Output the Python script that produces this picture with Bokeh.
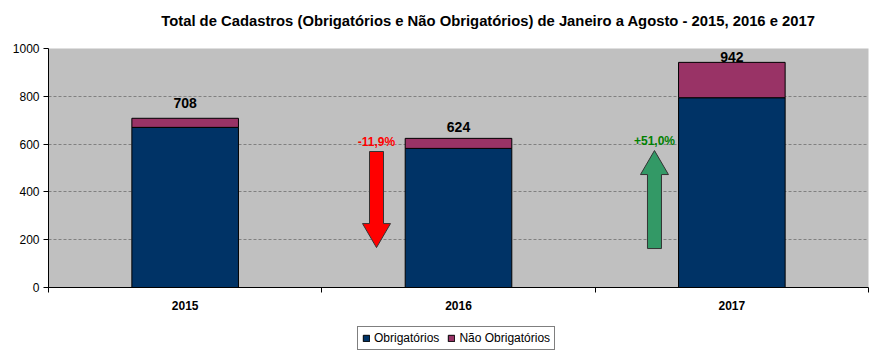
from bokeh.plotting import figure
from bokeh.layouts import column
from bokeh.models import (ColumnDataSource, FixedTicker, Legend, LegendItem, Range1d,
                          CustomJSTickFormatter)
from bokeh.core.properties import value
from bokeh.embed import file_html
from bokeh.resources import INLINE

# ---- data ----
title_text = "Total de Cadastros (Obrigatórios e Não Obrigatórios) de Janeiro a Agosto - 2015, 2016 e 2017"
years = ["2015", "2016", "2017"]
series_names = ["Obrigatórios", "Não Obrigatórios"]
series_colors = ["#003366", "#993366"]
obrigatorios = [670, 582, 794]
nao_obrigatorios = [38, 42, 148]
totals = [708, 624, 942]

change_labels = ["-11,9%", "+51,0%"]
change_x = [0.70, 1.717]           # position between categories
change_from = [569, 163]
change_to = [167, 573]
change_fill = ["#FF0000", "#339966"]
change_text = ["#FF0000", "#008000"]

FONT = "Liberation Sans"

# ---- title strip ----
pt = figure(frame_width=878, frame_height=40, output_backend="svg", toolbar_location=None,
            x_range=Range1d(0, 1), y_range=Range1d(0, 1), min_border=0, title=None)
pt.axis.visible = False
pt.grid.visible = False
pt.outline_line_color = None
pt.text(x=[0.501], y=[0.5], text=[title_text], text_align="center",
        text_baseline="middle", text_font=value(FONT), text_font_size="14.8px",
        text_font_style="bold", text_color="black")

# ---- main chart ----
xs = list(range(len(years)))
src = ColumnDataSource(dict(x=xs, obr=obrigatorios, nao=nao_obrigatorios,
                            total=totals, lbl=[str(t) for t in totals],
                            off=[-15, -11, -5]))

p = figure(frame_width=820, frame_height=239, output_backend="svg", toolbar_location=None,
           x_range=Range1d(-0.5, 2.5), y_range=Range1d(0, 1000), title=None,
           min_border_left=48, min_border_right=10, min_border_top=8, min_border_bottom=33)

p.background_fill_color = "#C0C0C0"
p.border_fill_color = "white"
p.outline_line_color = None

r = p.vbar_stack(["obr", "nao"], x="x", width=0.39, source=src,
                 color=series_colors, line_color="black", line_width=1)

p.text(x="x", y="total", text="lbl", source=src, text_align="center",
       text_baseline="alphabetic", y_offset="off", text_font=value(FONT),
       text_font_size="14px", text_font_style="bold", text_color="black")

# arrows as polygons (data units)
px_per_x = 820 / 3.0
px_per_y = 239 / 1000.0
shaft_hw = 7.0 / px_per_x
head_hw = 14.0 / px_per_x
head_len = 24.0 / px_per_y
arr_xs, arr_ys = [], []
for cx, y0, y1 in zip(change_x, change_from, change_to):
    d = 1 if y1 > y0 else -1
    yb = y1 - d * head_len
    arr_xs.append([cx - shaft_hw, cx + shaft_hw, cx + shaft_hw, cx + head_hw, cx,
                   cx - head_hw, cx - shaft_hw])
    arr_ys.append([y0, y0, yb, yb, y1, yb, yb])
p.patches(arr_xs, arr_ys, fill_color=change_fill, line_color="#333333", line_width=1)

top_y = [max(a, b) for a, b in zip(change_from, change_to)]
p.text(x=change_x, y=top_y, text=change_labels, text_align="center",
       text_baseline="bottom", y_offset=-3, text_font=value(FONT),
       text_font_size="12px", text_font_style="bold", text_color=change_text)

# axes
p.xgrid.visible = False
p.ygrid.grid_line_color = "#808080"
p.ygrid.grid_line_dash = "3 2"
p.ygrid.grid_line_width = 1

p.yaxis.ticker = FixedTicker(ticks=[0, 200, 400, 600, 800, 1000])
p.yaxis.minor_tick_line_color = None
p.yaxis.major_tick_out = 5
p.yaxis.major_tick_in = 0
p.yaxis.major_label_text_font = FONT
p.yaxis.major_label_text_font_size = "12px"
p.yaxis.major_label_text_color = "black"
p.yaxis.major_label_standoff = 4
p.yaxis.axis_line_color = "black"

p.xaxis.ticker = FixedTicker(ticks=xs, minor_ticks=[-0.5, 0.5, 1.5, 2.5])
p.xaxis.formatter = CustomJSTickFormatter(args=dict(labels=years),
                                          code="return labels[Math.round(tick)] || '';")
p.xaxis.major_tick_out = 0
p.xaxis.major_tick_in = 0
p.xaxis.minor_tick_out = 5
p.xaxis.minor_tick_in = 0
p.xaxis.minor_tick_line_color = "black"
p.xaxis.major_label_text_font = FONT
p.xaxis.major_label_text_font_size = "12px"
p.xaxis.major_label_text_font_style = "bold"
p.xaxis.major_label_text_color = "black"
p.xaxis.major_label_standoff = 8
p.xaxis.axis_line_color = "black"

# ---- legend strip (swatch glyphs sit outside its visible range) ----
pl = figure(frame_width=878, frame_height=38, output_backend="svg", toolbar_location=None,
            x_range=Range1d(0, 1), y_range=Range1d(0, 1), min_border=0, title=None)
pl.axis.visible = False
pl.grid.visible = False
pl.outline_line_color = None
pl.background_fill_color = "white"
leg_r = [pl.rect(x=[-10], y=[-10], width=1, height=1, fill_color=c,
                 line_color="black", line_width=1)
         for c in series_colors]
legend = Legend(items=[LegendItem(label=n, renderers=[rr]) for n, rr in zip(series_names, leg_r)],
                orientation="horizontal", location=(357, 8),
                label_text_font=FONT, label_text_font_size="12px",
                label_text_color="black",
                glyph_width=8, glyph_height=8, spacing=8, label_standoff=4,
                padding=4, margin=0, border_line_color="black", border_line_width=1,
                background_fill_color="white", background_fill_alpha=1)
pl.add_layout(legend, "center")

open("out.html", "w").write(file_html(column(pt, p, pl, spacing=0), INLINE))
